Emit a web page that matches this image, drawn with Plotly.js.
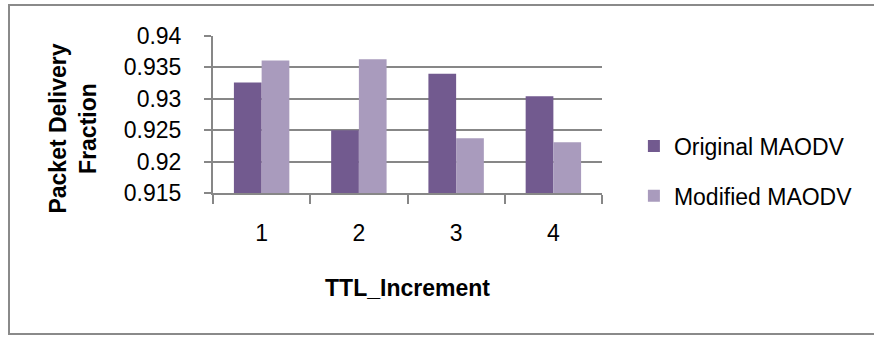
<!DOCTYPE html>
<html>
<head>
<meta charset="utf-8">
<script src="https://cdn.plot.ly/plotly-3.0.1.min.js"></script>
<style>
  html, body { margin: 0; padding: 0; background: #fff; }
  #wrap { position: relative; width: 874px; height: 338px; }
  #chart { width: 874px; height: 338px; }
  #frame { position: absolute; left: 8px; top: 4px; width: 866px; height: 331px;
           border: 2px solid #8a8a8a; border-right: none; pointer-events: none; box-sizing: border-box; }
</style>
</head>
<body>
<div id="wrap">
  <div id="chart"></div>
  <div id="frame"></div>
</div>
<script>
const categories = ["1", "2", "3", "4"];
const originalMAODV = [0.9326, 0.9250, 0.9340, 0.9304];
const modifiedMAODV = [0.9361, 0.9363, 0.9237, 0.9231];
const seriesNames = ["Original MAODV", "Modified MAODV"];
const yTickVals = [0.915, 0.92, 0.925, 0.93, 0.935, 0.94];
const yTickText = ["0.915", "0.92", "0.925", "0.93", "0.935", "0.94"];
const xTitle = "TTL_Increment";
const yTitle = "Packet Delivery<br>Fraction";

const FONT = "Liberation Sans, Arial, sans-serif";
const GRID = "#878787";

const traces = [
  { type: "bar", name: seriesNames[0], x: categories, y: originalMAODV,
    marker: { color: "#725A8F" }, legendgroup: "a" },
  { type: "bar", name: seriesNames[1], x: categories, y: modifiedMAODV,
    marker: { color: "#A99BBD" }, legendgroup: "b" }
];

const layout = {
  width: 874, height: 338,
  margin: { l: 213, r: 272, t: 36, b: 145, pad: 0 },
  paper_bgcolor: "#ffffff", plot_bgcolor: "#ffffff",
  font: { family: FONT, size: 23, color: "#000" },
  barmode: "group", bargap: 0.43, bargroupgap: 0,
  showlegend: true,
  legend: { x: 1.082, xanchor: "left", y: 0.14, yanchor: "middle",
            font: { family: FONT, size: 23, color: "#000" },
            traceorder: "grouped", tracegroupgap: 17, bgcolor: "rgba(0,0,0,0)" },
  xaxis: {
    type: "category", showgrid: false, zeroline: false,
    showline: true, linecolor: GRID, linewidth: 2,
    ticks: "outside", tickson: "boundaries", ticklen: 9, tickcolor: GRID, tickwidth: 2,
    ticklabelstandoff: 18,
    tickfont: { family: FONT, size: 23, color: "#000" },
    title: { text: xTitle, font: { family: FONT, size: 23, color: "#000", weight: "bold" }, standoff: 35 },
    automargin: false
  },
  yaxis: {
    range: [0.915, 0.94], tickvals: yTickVals, ticktext: yTickText,
    showgrid: true, gridcolor: GRID, gridwidth: 2, zeroline: false,
    showline: true, linecolor: GRID, linewidth: 2,
    ticks: "outside", ticklen: 7, tickcolor: GRID, tickwidth: 2,
    ticklabelstandoff: 18,
    tickfont: { family: FONT, size: 23, color: "#000" },
    automargin: false
  },
  annotations: [{
    text: "<b>" + yTitle.replace("<br>", "</b><br><b>") + "</b>",
    xref: "paper", yref: "paper", x: -0.36, y: 0.41,
    xanchor: "center", yanchor: "middle", textangle: -90, showarrow: false,
    font: { family: FONT, size: 23, color: "#000" }
  }]
};

Plotly.newPlot("chart", traces, layout, { displayModeBar: false, staticPlot: true });
</script>
</body>
</html>
